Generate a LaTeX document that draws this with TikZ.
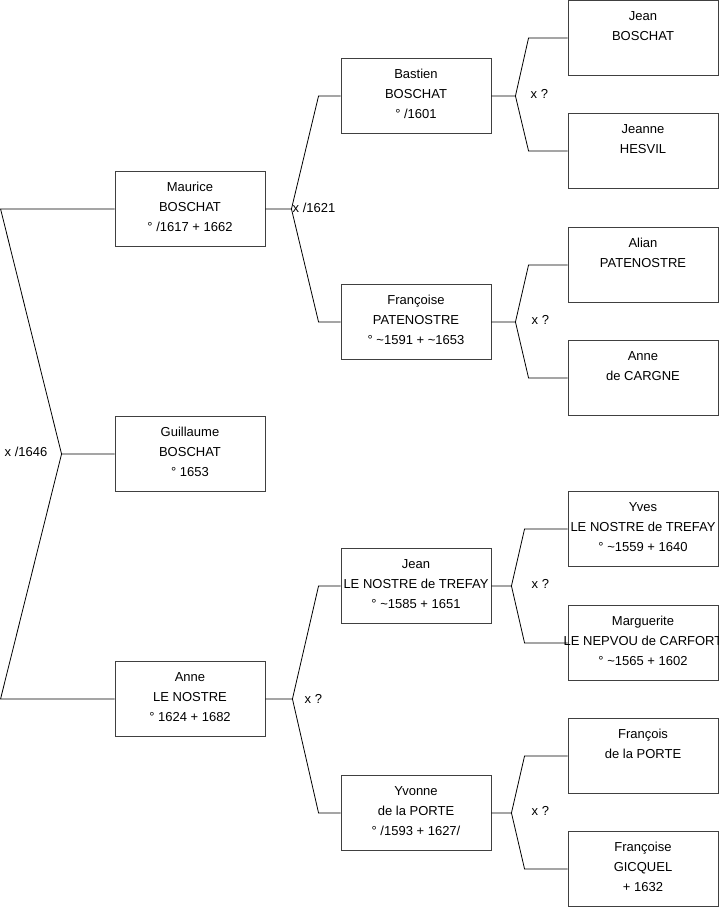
\documentclass[tikz,border=0pt]{standalone}
\usepackage{fontspec}
\setmainfont{Liberation Sans}
\usetikzlibrary{positioning, calc}

\tikzset{
  case/.style={draw=black!75, line width=0.9pt, minimum width=150pt, minimum height=75pt, inner sep=0pt, anchor=north},
  texte/.style={anchor=north, align=center, inner sep=0pt, font=\fontsize{13}{20}\selectfont},
  union/.style={inner sep=0pt, font=\fontsize{13}{16}\selectfont},
  lien/.style={line width=0.8pt}
}

\begin{document}
\begin{tikzpicture}[x=1pt, y=-1pt]
\useasboundingbox (0,0) rectangle (719,908);

% --- Fiches ---
\foreach \nom/\x/\y/\txt in {
  maurice/190/171/{Maurice\\BOSCHAT\\° /1617 + 1662},
  guillaume/190/416/{Guillaume\\BOSCHAT\\° 1653},
  anne/190/661/{Anne\\LE NOSTRE\\° 1624 + 1682},
  bastien/416/58/{Bastien\\BOSCHAT\\° /1601},
  francoise/416/284/{Françoise\\PATENOSTRE\\° \textasciitilde1591 + \textasciitilde1653},
  jean/416/548/{Jean\\LE NOSTRE de TREFAY\\° \textasciitilde1585 + 1651},
  yvonne/416/775/{Yvonne\\de la PORTE\\° /1593 + 1627/},
  jeanb/643/0/{Jean\\BOSCHAT},
  jeanne/643/113/{Jeanne\\HESVIL},
  alian/643/227/{Alian\\PATENOSTRE},
  annec/643/340/{Anne\\de CARGNE},
  yves/643/491/{Yves\\LE NOSTRE de TREFAY\\° \textasciitilde1559 + 1640},
  marguerite/643/605/{Marguerite\\LE NEPVOU de CARFORT\\° \textasciitilde1565 + 1602},
  francois/643/718/{François\\de la PORTE},
  francoiseg/643/831/{Françoise\\GICQUEL\\+ 1632}}{
  \node[case] (\nom) at (\x,\y) {};
  \node[texte] (\nom-t) at ([yshift=-6.5]\nom.north) {\strut\txt};
}

% --- Union x /1646 ---
\coordinate (g1) at ([xshift=-114]maurice.west);
\coordinate (g2) at ([xshift=-53]guillaume.west);
\coordinate (g3) at ([xshift=-114]anne.west);
\draw[lien] (maurice.west) -- (g1) -- (g2) -- (guillaume.west);
\draw[lien] (g2) -- (g3) -- (anne.west);
\node[union, anchor=east] (u-guillaume) at ([xshift=-14, yshift=2.5]g2) {x /1646};

% --- Parents ---
\foreach \p/\a/\b/\d/\e in {maurice/bastien/francoise/26/22, anne/jean/yvonne/27/22,
  bastien/jeanb/jeanne/24/39, francoise/alian/annec/24/39,
  jean/yves/marguerite/20/43, yvonne/francois/francoiseg/20/43}{
  \draw[lien] (\p.east) -- ++(\d,0) coordinate (j-\p) -- ([xshift=-\e]\a.west) -- (\a.west);
  \draw[lien] (j-\p) -- ([xshift=-\e]\b.west) -- (\b.west);
}

% --- Mariages ---
\node[union, anchor=west] (u-maurice) at ([xshift=1, yshift=1.5]j-maurice) {x /1621};
\node[union, anchor=west] (u-anne) at ([xshift=12]j-anne) {x ?};
\node[union, anchor=west] (u-bastien) at ([xshift=15, yshift=2]j-bastien) {x ?};
\node[union, anchor=west] (u-francoise) at ([xshift=16, yshift=1.5]j-francoise) {x ?};
\node[union, anchor=west] (u-jean) at ([xshift=20, yshift=2]j-jean) {x ?};
\node[union, anchor=west] (u-yvonne) at ([xshift=20, yshift=2]j-yvonne) {x ?};

\end{tikzpicture}
\end{document}
